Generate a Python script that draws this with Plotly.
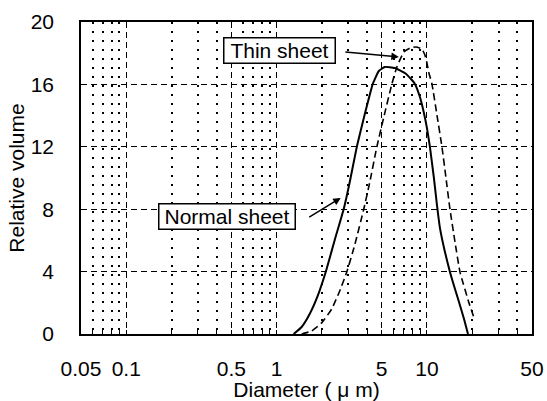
import plotly.graph_objects as go

# Particle size distributions (diameter in um, relative volume)
normal_d = [1.298, 1.468, 1.660, 1.877, 2.122, 2.436, 2.797, 3.067, 3.415, 3.862,
            4.365, 4.786, 5.248, 6.119, 7.135, 7.943, 8.318, 8.983, 9.550, 10.0,
            10.47, 11.13, 11.66, 12.21, 13.18, 14.23, 15.37, 16.34, 17.65, 18.76]
normal_v = [0.0, 0.45, 1.28, 2.44, 3.97, 6.03, 8.01, 9.74, 11.99, 14.10,
            16.03, 16.86, 17.12, 17.05, 16.73, 16.28, 16.03, 15.19, 14.17, 13.21,
            11.99, 10.0, 8.27, 6.79, 5.26, 3.97, 2.88, 2.05, 0.96, 0.0]

thin_d = [1.468, 1.711, 1.995, 2.326, 2.630, 2.929, 3.311, 3.802, 4.169, 4.642,
          5.168, 5.848, 6.310, 7.025, 7.703, 8.446, 9.261, 9.698, 10.0, 10.31,
          10.80, 11.66, 12.59, 13.39, 14.23, 15.37, 16.60, 19.05, 20.58]
thin_v = [0.0, 0.19, 0.71, 1.60, 2.76, 3.97, 5.71, 8.01, 9.74, 11.99,
          13.91, 16.03, 17.12, 18.08, 18.33, 18.40, 18.27, 17.88, 17.37, 16.73,
          16.03, 14.04, 11.99, 10.0, 8.01, 5.90, 3.97, 1.99, 1.03]

x_tickvals = [0.05, 0.1, 0.5, 1, 5, 10, 50]
x_ticktext = ["0.05", "0.1", "0.5", "1", "5", "10", "50"]
x_minor = [0.06, 0.07, 0.08, 0.09, 0.2, 0.3, 0.4, 0.6, 0.7, 0.8, 0.9,
           2, 3, 4, 6, 7, 8, 9, 20, 30, 40]
y_tickvals = [0, 4, 8, 12, 16, 20]

FONT = "Liberation Sans, Arial, Helvetica, sans-serif"

fig = go.Figure()
fig.add_trace(go.Scatter(x=normal_d, y=normal_v, mode="lines", name="Normal sheet",
                         line=dict(color="black", width=2, shape="spline", smoothing=0.4)))
fig.add_trace(go.Scatter(x=thin_d, y=thin_v, mode="lines", name="Thin sheet",
                         line=dict(color="black", width=1.6, dash="7px,4px",
                                   shape="spline", smoothing=0.4)))

fig.update_layout(
    width=547, height=401,
    margin=dict(l=81, r=15, t=22, b=67),
    paper_bgcolor="white", plot_bgcolor="white",
    showlegend=False,
    font=dict(family=FONT, size=21, color="black"),
    xaxis=dict(
        type="log", range=[-1.30103, 1.69897], automargin=False,
        tickmode="array", tickvals=x_tickvals, ticktext=x_ticktext,
        showgrid=True, gridcolor="black", gridwidth=1.2, griddash="6px,4px",
        ticks="inside", ticklen=4, tickcolor="black",
        ticklabelstandoff=15,
        minor=dict(tickmode="array", tickvals=x_minor, showgrid=True,
                   gridcolor="black", gridwidth=1.6, griddash="2px,7px",
                   ticks="inside", ticklen=4, tickcolor="black"),
        showline=True, linecolor="black", linewidth=1.5, mirror=True,
        zeroline=False,
        title=dict(text="Diameter ( \u03bc m)", font=dict(size=21), standoff=10),
    ),
    yaxis=dict(
        range=[0, 20], tickmode="array", tickvals=y_tickvals, automargin=False,
        showgrid=True, gridcolor="black", gridwidth=1.2, griddash="6px,4px",
        ticks="", ticklabelstandoff=21,
        showline=True, linecolor="black", linewidth=1.5, mirror=True,
        zeroline=False,
        title=dict(text="Relative volume", font=dict(size=21), standoff=0),
    ),
)

# Label boxes
fig.add_annotation(xref="paper", yref="paper", x=0.440, y=0.910, text="Thin sheet",
                   showarrow=False, xanchor="center", yanchor="middle",
                   bordercolor="black", borderwidth=1.5, bgcolor="white",
                   width=108, height=22, borderpad=1)
fig.add_annotation(xref="paper", yref="paper", x=0.324, y=0.378, text="Normal sheet",
                   showarrow=False, xanchor="center", yanchor="middle",
                   bordercolor="black", borderwidth=1.5, bgcolor="white",
                   width=133, height=22, borderpad=1)
# Arrows
fig.add_annotation(x=0.8133, y=17.76, xref="x", yref="y", text="", showarrow=True,
                   ax=-55, ay=-5, arrowhead=2, arrowsize=1, arrowwidth=1.5,
                   arrowcolor="black")
fig.add_annotation(x=0.4267, y=8.72, xref="x", yref="y", text="", showarrow=True,
                   ax=-33, ay=20, arrowhead=2, arrowsize=1, arrowwidth=1.5,
                   arrowcolor="black")

fig.write_html("out.html", config={"displayModeBar": False},
               post_script="document.body.style.margin='0px';document.body.style.overflow='hidden';")
